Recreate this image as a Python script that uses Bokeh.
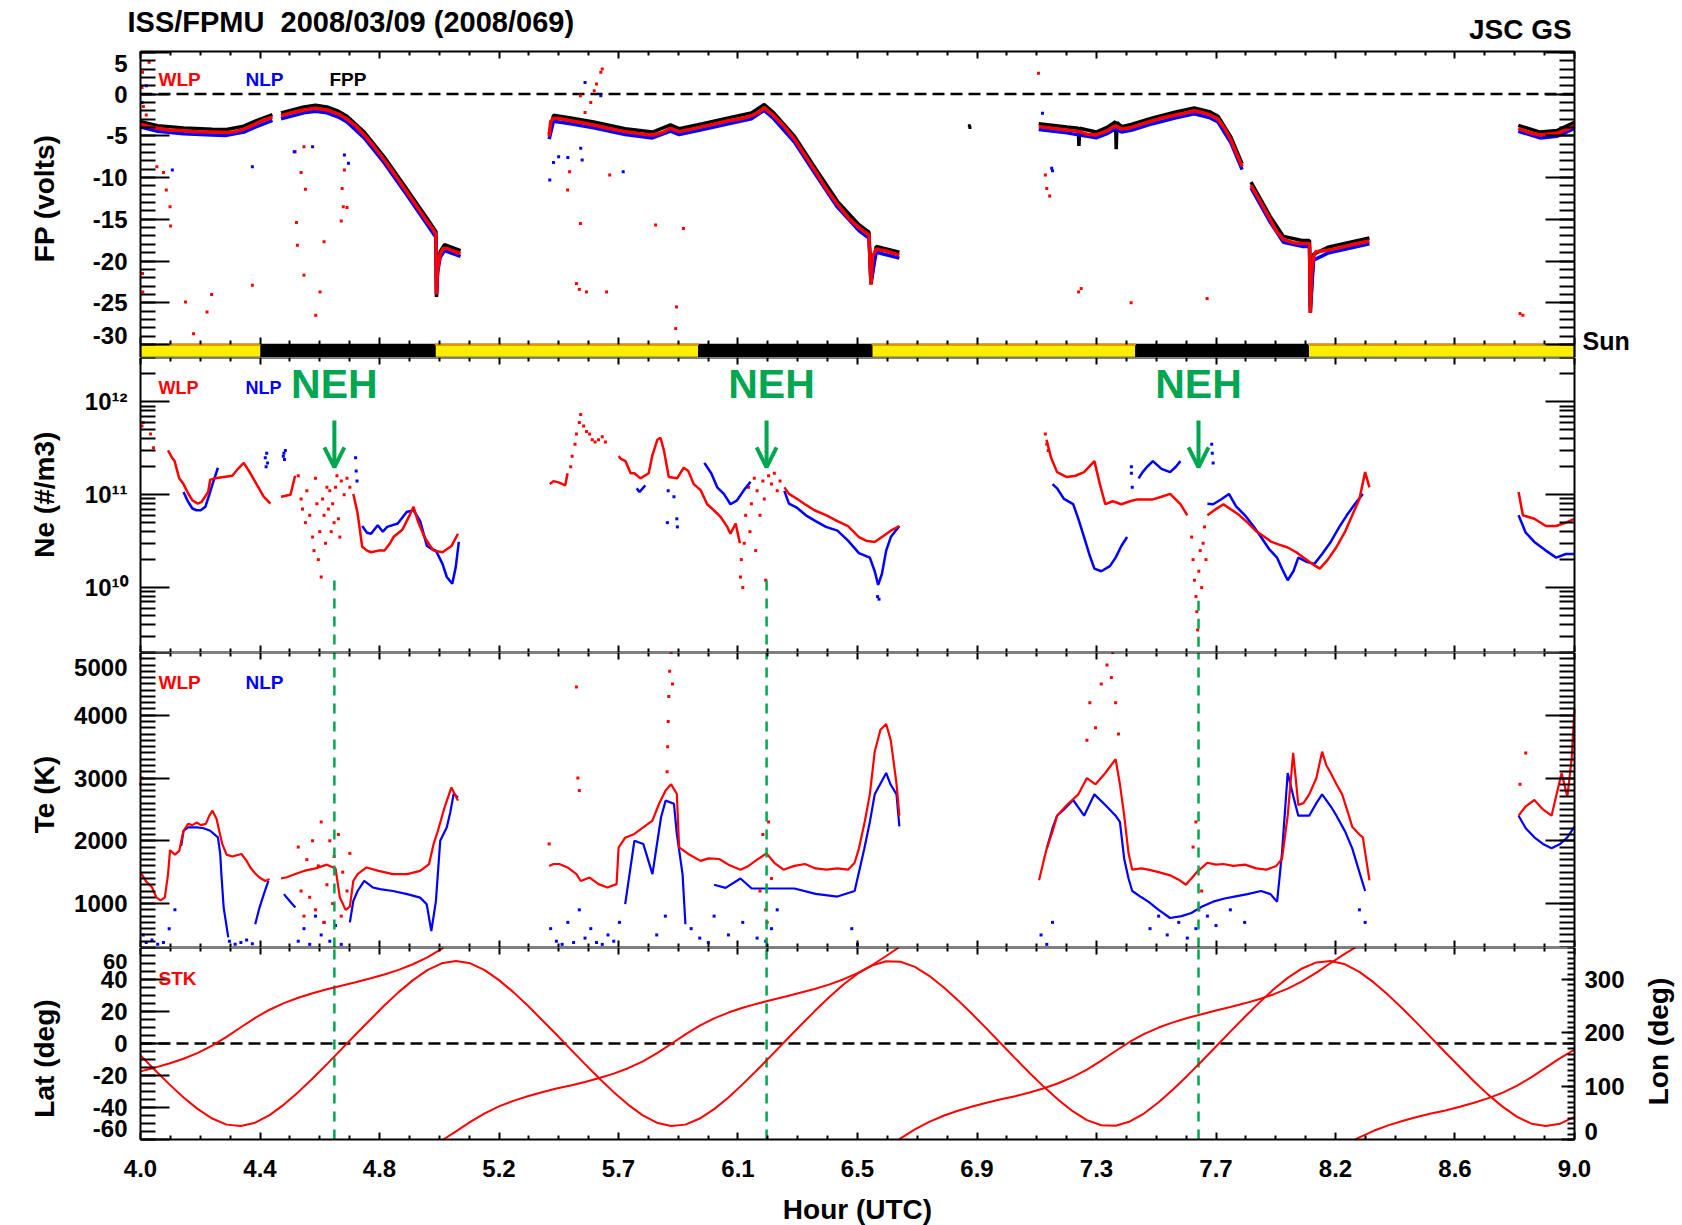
from bokeh.plotting import figure
from bokeh.layouts import column
from bokeh.models import (Range1d, LinearAxis, LogAxis, FixedTicker, Label,
                          CustomJSTickFormatter, Arrow, OpenHead)
from bokeh.embed import file_html
from bokeh.resources import INLINE

FONT = "Liberation Sans"
RED, BLUE, GREEN = "#FF0000", "#0000FF", "#00A650"

# ---------------- axes / ticks ----------------
X_MIN, X_MAX = 4.0, 9.0
x_ticks = [4.0, 4.416667, 4.833333, 5.25, 5.666667, 6.083333, 6.5, 6.916667,
           7.333333, 7.75, 8.166667, 8.583333, 9.0]
x_tick_labels = ["4.0", "4.4", "4.8", "5.2", "5.7", "6.1", "6.5", "6.9", "7.3", "7.7", "8.2", "8.6", "9.0"]

FP_MIN, FP_MAX = -31.56, 5.1
fp_ticks = [5, 0, -5, -10, -15, -20, -25, -30]
fp_tick_labels = ["5", "0", "-5", "-10", "-15", "-20", "-25", "-30"]
NE_MIN, NE_MAX = 2e9, 3e12
ne_ticks = [1e10, 1e11, 1e12]
TE_MIN, TE_MAX = 300, 5000
te_ticks = [1000, 2000, 3000, 4000, 5000]
te_tick_labels = ["1000", "2000", "3000", "4000", "5000"]
LAT_MIN, LAT_MAX = -60, 60
lat_ticks = [-60, -40, -20, 0, 20, 40, 60]
lat_tick_labels = ["-60", "-40", "-20", "0", "20", "40", "60"]
LON_MIN, LON_MAX = 0, 360
lon_ticks = [0, 100, 200, 300]
lon_tick_labels = ["0", "100", "200", "300"]

# ---------------- sunlight bar ----------------
sun_start = [4.0, 5.026, 6.549, 8.071]
sun_end = [4.421, 5.947, 7.471, 9.0]
eclipse_start = [4.421, 5.947, 7.471]
eclipse_end = [5.026, 6.549, 8.071]

# ---------------- NEH events ----------------
neh_hours = [4.676, 6.183, 7.689]
neh_text_hours = [4.676, 6.20, 7.689]
neh_line_top = [1.19e10, 1.19e10, 7.2e9]

# ---------------- Floating potential (V) ----------------
fp_wlp = [
    [(4.00, -3.6), (4.03, -3.9), (4.06, -4.1), (4.10, -4.3), (4.15, -4.4), (4.20, -4.5), (4.25, -4.55),
     (4.30, -4.6), (4.33, -4.5), (4.36, -4.2), (4.40, -3.6), (4.43, -3.1), (4.46, -2.8)],
    [(4.49, -2.6), (4.53, -2.2), (4.57, -1.9), (4.61, -1.7), (4.65, -1.9), (4.69, -2.4), (4.72, -3.0),
     (4.75, -3.8), (4.78, -4.9), (4.81, -6.1), (4.85, -7.9), (4.89, -9.8), (4.93, -11.8), (4.97, -13.8),
     (5.00, -15.3), (5.02, -16.2), (5.030, -16.8), (5.032, -24.0), (5.036, -21.0), (5.045, -19.2),
     (5.055, -18.5), (5.07, -18.5), (5.09, -18.8), (5.116, -19.1)],
    [(5.425, -5.1), (5.43, -3.3), (5.44, -2.9), (5.47, -3.0), (5.50, -3.2), (5.535, -3.4), (5.58, -3.7),
     (5.63, -4.1), (5.69, -4.5), (5.75, -4.8), (5.785, -4.9), (5.82, -4.6), (5.848, -4.1), (5.878, -4.5),
     (5.92, -4.2), (5.96, -3.9), (6.00, -3.6), (6.05, -3.2), (6.10, -2.9), (6.13, -2.6), (6.16, -2.1),
     (6.175, -1.6), (6.19, -2.1), (6.205, -2.5), (6.24, -3.7), (6.28, -5.4), (6.32, -7.5), (6.354, -9.3),
     (6.39, -11.3), (6.43, -13.2), (6.47, -14.9), (6.505, -16.0), (6.54, -16.9), (6.547, -22.8),
     (6.552, -19.5), (6.565, -18.6), (6.60, -18.8), (6.646, -19.3)],
    [(7.132, -3.9), (7.18, -4.1), (7.23, -4.3), (7.272, -4.5), (7.30, -4.8), (7.332, -4.9), (7.37, -4.4),
     (7.40, -3.8), (7.42, -4.2), (7.454, -4.0), (7.49, -3.6), (7.529, -3.2), (7.57, -2.8), (7.61, -2.5),
     (7.651, -2.2), (7.674, -2.0), (7.70, -2.2), (7.73, -2.5), (7.757, -3.0), (7.78, -4.1), (7.802, -5.5),
     (7.82, -7.0), (7.841, -8.7)],
    [(7.872, -10.9), (7.90, -12.6), (7.939, -15.0), (7.96, -16.4), (7.985, -17.4), (8.02, -17.8),
     (8.05, -17.9), (8.076, -17.9), (8.079, -26.2), (8.083, -21.5), (8.09, -19.5), (8.098, -18.9),
     (8.14, -18.7), (8.182, -18.4), (8.23, -18.0), (8.285, -17.6)],
    [(8.804, -4.1), (8.84, -4.6), (8.88, -4.9), (8.94, -4.7), (8.97, -4.3), (9.0, -3.8)],
]
fp_fpp = [
    [(4.00, -3.3), (4.06, -3.8), (4.15, -4.05), (4.25, -4.2), (4.30, -4.25), (4.36, -3.85), (4.40, -3.25), (4.46, -2.45)],
    [(4.49, -2.25), (4.57, -1.55), (4.61, -1.35), (4.65, -1.55), (4.69, -2.05), (4.72, -2.65), (4.78, -4.55),
     (4.85, -7.55), (4.93, -11.45), (5.00, -14.95), (5.03, -16.45), (5.032, -24.3), (5.036, -20.7),
     (5.045, -18.85), (5.06, -18.05), (5.116, -18.75)],
    [(5.425, -4.8), (5.44, -2.55), (5.50, -2.85), (5.58, -3.35), (5.69, -4.15), (5.785, -4.55), (5.848, -3.7),
     (5.878, -4.15), (5.96, -3.55), (6.05, -2.85), (6.13, -2.25), (6.175, -1.25), (6.205, -2.15), (6.28, -5.05),
     (6.354, -8.95), (6.43, -12.85), (6.505, -15.65), (6.54, -16.55), (6.547, -22.8), (6.565, -18.25), (6.646, -18.95)],
    [(7.132, -3.55), (7.23, -3.95), (7.27, -4.1), (7.272, -6.2), (7.275, -4.1), (7.332, -4.55), (7.37, -4.0),
     (7.40, -3.3), (7.402, -6.6), (7.405, -3.4), (7.42, -3.9), (7.454, -3.65), (7.529, -2.85), (7.61, -2.15),
     (7.674, -1.65), (7.73, -2.15), (7.757, -2.65), (7.802, -5.15), (7.841, -8.35)],
    [(7.872, -10.55), (7.939, -14.65), (7.985, -17.05), (8.05, -17.55), (8.076, -17.55), (8.079, -26.2),
     (8.09, -19.2), (8.14, -18.35), (8.23, -17.65), (8.285, -17.25)],
    [(8.804, -3.75), (8.88, -4.55), (8.94, -4.35), (9.0, -3.4)],
]
fp_nlp = [
    [(4.00, -3.95), (4.06, -4.45), (4.15, -4.75), (4.25, -4.9), (4.30, -4.95), (4.36, -4.55), (4.40, -3.95), (4.46, -3.15)],
    [(4.49, -2.95), (4.57, -2.25), (4.61, -2.05), (4.65, -2.25), (4.69, -2.75), (4.72, -3.35), (4.78, -5.25),
     (4.85, -8.25), (4.93, -12.15), (5.00, -15.65), (5.03, -17.15), (5.032, -24.0), (5.036, -21.3),
     (5.045, -19.55), (5.06, -18.75), (5.116, -19.45)],
    [(5.425, -5.4), (5.44, -3.25), (5.50, -3.55), (5.58, -4.05), (5.69, -4.85), (5.785, -5.25), (5.848, -4.45),
     (5.878, -4.85), (5.96, -4.25), (6.05, -3.55), (6.13, -2.95), (6.175, -1.95), (6.205, -2.85), (6.28, -5.75),
     (6.354, -9.65), (6.43, -13.55), (6.505, -16.35), (6.54, -17.25), (6.547, -22.5), (6.565, -18.95), (6.646, -19.65)],
    [(7.132, -4.25), (7.23, -4.65), (7.332, -5.25), (7.37, -4.75), (7.40, -4.15), (7.42, -4.55), (7.454, -4.35),
     (7.529, -3.55), (7.61, -2.85), (7.674, -2.35), (7.73, -2.85), (7.757, -3.35), (7.802, -5.85), (7.841, -9.05)],
    [(7.872, -11.25), (7.939, -15.35), (7.985, -17.75), (8.05, -18.25), (8.076, -18.25), (8.079, -25.5),
     (8.09, -19.9), (8.14, -19.05), (8.23, -18.35), (8.285, -17.95)],
    [(8.804, -4.45), (8.88, -5.25), (8.94, -5.05), (9.0, -4.1)],
]
fp_red_dots = [(4.007, 2.6), (4.03, 3.8), (4.057, -8.7), (4.08, -9.4), (4.09, -11.5), (4.103, -13.5), (4.105, -15.8),
               (4.007, -21.5), (4.008, -23.7), (4.157, -24.9), (4.232, -26.1), (4.248, -24.0), (4.185, -28.7),
               (4.39, -22.9), (4.539, -6.9), (4.57, -6.3), (4.56, -9.4), (4.575, -11.4), (4.544, -15.4),
               (4.547, -18.1), (4.57, -21.7), (4.611, -26.5), (4.626, -23.7), (4.64, -17.7), (4.703, -11.3),
               (4.711, -9.1), (4.707, -13.5), (4.72, -13.6), (4.70, -15.2), (5.489, -11.5), (5.496, -9.3),
               (5.534, -15.5), (5.52, -22.7), (5.53, -23.4), (5.555, -23.7), (5.625, -23.7), (5.636, -9.7),
               (5.796, -15.7), (5.893, -16.1), (5.869, -25.5), (5.866, -28.1), (5.534, -0.2), (5.55, -2.2),
               (5.582, 0.4), (5.605, 2.6), (5.61, 3.0), (5.59, 1.2), (5.57, -1.0), (7.131, 2.5), (7.155, -9.7),
               (7.16, -11.3), (7.17, -12.2), (7.271, -23.7), (7.28, -23.3), (7.454, -25.0), (7.719, -24.5),
               (8.81, -26.3), (8.82, -26.5), (4.005, 0.8), (4.01, -1.5), (4.02, -2.5)]
fp_blue_dots = [(4.39, -8.7), (4.111, -9.1), (4.536, -6.9), (4.60, -6.3), (4.711, -7.3), (4.725, -8.3),
                (5.427, -10.3), (5.44, -8.2), (5.458, -7.5), (5.49, -7.6), (5.535, -6.5), (5.54, -7.9),
                (5.683, -9.3), (5.55, 1.4), (5.605, -0.2), (7.145, -2.3), (7.177, -8.9), (7.18, -9.2),
                (4.005, -1.0), (4.02, 1.0)]
fp_black_dots = [(6.89, -3.8), (6.892, -4.0)]

# ---------------- Electron density (#/m3) ----------------
ne_wlp = [
    [(4.096, 3.0e11), (4.11, 2.5e11), (4.119, 2.3e11), (4.135, 1.5e11), (4.15, 1.3e11), (4.165, 1.05e11),
     (4.181, 8.7e10), (4.20, 8.0e10), (4.212, 8.3e10), (4.225, 9.5e10), (4.236, 1.07e11), (4.243, 1.45e11),
     (4.26, 1.5e11), (4.29, 1.55e11), (4.32, 1.6e11), (4.34, 1.9e11), (4.36, 2.2e11), (4.383, 1.7e11),
     (4.407, 1.26e11), (4.43, 9.5e10), (4.453, 8.0e10)],
    [(4.49, 9.5e10), (4.51, 9.8e10), (4.523, 1.0e11), (4.539, 1.6e11)],
    [(4.742, 1.02e11), (4.757, 6.3e10), (4.773, 2.75e10), (4.79, 2.5e10), (4.804, 2.4e10), (4.83, 2.5e10),
     (4.851, 2.5e10), (4.87, 3.0e10), (4.882, 3.5e10), (4.913, 4.2e10), (4.936, 5.8e10), (4.952, 7.4e10),
     (4.967, 5.2e10), (4.99, 3.5e10), (5.01, 2.8e10), (5.022, 2.5e10), (5.053, 2.4e10), (5.084, 2.8e10),
     (5.107, 3.8e10)],
    [(5.427, 1.3e11), (5.44, 1.4e11), (5.46, 1.35e11), (5.481, 1.26e11), (5.489, 1.7e11)],
    [(5.667, 2.6e11), (5.674, 2.45e11), (5.691, 2.3e11), (5.709, 1.7e11), (5.722, 1.7e11), (5.743, 1.5e11),
     (5.772, 1.7e11), (5.784, 2.6e11), (5.802, 3.9e11), (5.813, 4.1e11), (5.825, 3.0e11), (5.842, 1.55e11),
     (5.871, 1.5e11), (5.894, 1.95e11), (5.91, 1.8e11), (5.929, 1.3e11), (5.953, 1.12e11), (5.976, 7.9e10),
     (5.999, 6.8e10), (6.022, 5.8e10), (6.046, 4.5e10), (6.057, 3.8e10), (6.075, 4.9e10), (6.09, 3.0e10)],
    [(6.245, 1.2e11), (6.261, 1.02e11), (6.29, 9.0e10), (6.317, 7.9e10), (6.35, 6.8e10), (6.392, 6.0e10),
     (6.43, 5.2e10), (6.467, 4.6e10), (6.505, 3.5e10), (6.53, 3.2e10), (6.56, 3.1e10), (6.59, 3.6e10),
     (6.616, 4.1e10), (6.646, 4.6e10)],
    [(7.159, 3.9e11), (7.175, 2.5e11), (7.196, 1.75e11), (7.23, 1.55e11), (7.26, 1.6e11), (7.29, 1.75e11),
     (7.326, 2.3e11), (7.345, 1.3e11), (7.364, 7.9e10), (7.39, 8.5e10), (7.42, 7.9e10), (7.45, 8.5e10),
     (7.476, 8.9e10), (7.53, 8.9e10), (7.56, 9.5e10), (7.59, 1.02e11), (7.626, 7.9e10), (7.65, 6.0e10)],
    [(7.72, 6.0e10), (7.75, 7.0e10), (7.776, 7.9e10), (7.80, 7.0e10), (7.832, 6.0e10), (7.86, 5.0e10),
     (7.888, 4.1e10), (7.92, 3.5e10), (7.944, 3.1e10), (7.97, 2.9e10), (8.0, 2.7e10), (8.03, 2.4e10),
     (8.056, 2.1e10), (8.085, 1.8e10), (8.112, 1.6e10), (8.14, 2.0e10), (8.169, 2.7e10), (8.2, 4.0e10),
     (8.225, 6.0e10), (8.25, 9.0e10), (8.27, 1.75e11), (8.285, 1.2e11)],
    [(8.805, 1.07e11), (8.82, 6.0e10), (8.86, 5.5e10), (8.9, 4.6e10), (8.936, 4.6e10), (8.97, 5.0e10), (9.0, 5.5e10)],
]
ne_nlp = [
    [(4.15, 1.07e11), (4.165, 8.5e10), (4.181, 7.1e10), (4.195, 6.8e10), (4.21, 6.8e10), (4.226, 7.4e10),
     (4.24, 1.0e11), (4.251, 1.3e11), (4.27, 1.95e11)],
    [(4.773, 4.6e10), (4.79, 3.9e10), (4.804, 3.8e10), (4.827, 4.7e10), (4.845, 4.0e10), (4.86, 4.5e10),
     (4.897, 4.9e10), (4.928, 6.5e10), (4.952, 6.8e10), (4.975, 5.2e10), (4.999, 2.8e10), (5.015, 2.6e10),
     (5.03, 2.5e10), (5.053, 1.8e10), (5.068, 1.3e10), (5.087, 1.1e10), (5.099, 1.65e10), (5.11, 3.1e10)],
    [(5.73, 1.17e11), (5.74, 1.07e11), (5.76, 1.26e11)],
    [(5.966, 2.2e11), (5.99, 1.7e11), (6.011, 1.2e11), (6.034, 1.02e11), (6.057, 7.9e10), (6.08, 8.7e10),
     (6.104, 1.12e11), (6.127, 1.38e11)],
    [(6.245, 1.1e11), (6.261, 8.0e10), (6.29, 7.2e10), (6.32, 6.0e10), (6.354, 5.2e10), (6.39, 4.5e10),
     (6.43, 4.1e10), (6.467, 3.2e10), (6.505, 2.35e10), (6.543, 2.1e10), (6.56, 1.5e10), (6.572, 1.07e10),
     (6.585, 1.4e10), (6.6, 2.5e10), (6.616, 3.5e10), (6.646, 4.6e10)],
    [(7.18, 1.3e11), (7.196, 1.17e11), (7.22, 9.0e10), (7.252, 7.9e10), (7.27, 5.5e10), (7.29, 3.5e10),
     (7.31, 2.2e10), (7.326, 1.6e10), (7.35, 1.5e10), (7.38, 1.7e10), (7.40, 2.1e10), (7.42, 2.8e10), (7.44, 3.5e10)],
    [(7.48, 1.5e11), (7.494, 1.75e11), (7.51, 2.0e11), (7.53, 2.3e11), (7.56, 1.9e11), (7.59, 1.75e11),
     (7.61, 2.0e11), (7.626, 2.3e11)],
    [(7.72, 8.0e10), (7.74, 7.9e10), (7.77, 9.0e10), (7.795, 1.02e11), (7.82, 7.5e10), (7.851, 6.0e10),
     (7.88, 4.6e10), (7.907, 3.5e10), (7.935, 2.6e10), (7.963, 2.1e10), (7.98, 1.6e10), (8.0, 1.2e10),
     (8.02, 1.5e10), (8.037, 2.1e10), (8.065, 1.9e10), (8.093, 1.8e10), (8.12, 2.3e10), (8.15, 3.1e10),
     (8.18, 4.5e10), (8.206, 6.0e10), (8.235, 8.0e10), (8.262, 1.02e11)],
    [(8.805, 6.0e10), (8.83, 3.9e10), (8.86, 3.1e10), (8.9, 2.5e10), (8.936, 2.1e10), (8.97, 2.3e10), (9.0, 2.3e10)],
]
ne_red_dots = [(4.55, 1.6e11), (4.56, 9e10), (4.565, 7e10), (4.575, 5e10), (4.58, 1.1e11), (4.59, 6e10),
               (4.60, 3.5e10), (4.605, 2.5e10), (4.61, 1.5e11), (4.615, 8e10), (4.62, 2e10), (4.625, 4e10),
               (4.63, 1.3e10), (4.635, 9e10), (4.64, 6e10), (4.645, 3e10), (4.65, 1.2e11), (4.655, 7e10),
               (4.66, 1.1e11), (4.665, 4e10), (4.67, 8e10), (4.675, 5e10), (4.68, 1.2e11), (4.685, 1.6e11),
               (4.69, 5.5e10), (4.695, 3.5e10), (4.70, 1.4e11), (4.71, 1.0e11), (4.72, 1.5e11), (4.73, 1.2e11),
               (4.035, 4.5e11), (4.045, 3.2e11), (4.005, 5.5e11), (4.01, 6e11),
               (6.095, 2.0e10), (6.10, 1.0e10), (6.105, 3e10), (6.11, 6e10), (6.12, 1.2e11), (6.125, 4e10),
               (6.13, 8e10), (6.14, 1.5e11), (6.145, 2.5e10), (6.15, 1.1e11), (6.16, 6e10), (6.17, 1.4e11),
               (6.175, 9e10), (6.18, 1.2e10), (6.19, 1.6e11), (6.20, 1.3e11), (6.21, 1.7e11), (6.22, 1.1e11),
               (6.23, 1.4e11), (6.092, 1.3e10),
               (7.665, 3.5e10), (7.67, 2e10), (7.675, 1.2e10), (7.68, 8e9), (7.683, 5.5e9), (7.686, 3.5e9),
               (7.69, 1.5e10), (7.695, 2.5e10), (7.70, 1.0e10), (7.705, 3e10), (7.71, 4.5e10), (7.715, 2e10),
               (5.50, 2.0e11), (5.505, 2.6e11), (5.515, 3.5e11), (5.52, 4.5e11), (5.53, 6.0e11), (5.535, 7.3e11),
               (5.545, 5.5e11), (5.555, 4.8e11), (5.566, 4.5e11), (5.575, 3.9e11), (5.585, 3.7e11),
               (5.597, 3.9e11), (5.61, 4.2e11), (5.621, 3.7e11), (7.155, 4.5e11), (7.16, 3.5e11), (7.165, 3e11)]
ne_blue_dots = [(4.435, 2.5e11), (4.438, 2.0e11), (4.44, 2.8e11), (4.443, 2.2e11), (4.5, 2.8e11), (4.502, 2.4e11),
                (4.505, 3.0e11), (4.498, 2.6e11), (4.75, 2.5e11), (4.752, 1.8e11), (4.755, 1.4e11),
                (5.837, 5.0e10), (5.84, 1.1e11), (5.86, 9.5e10), (5.87, 5.5e10), (5.872, 4.5e10),
                (7.455, 1.7e11), (7.458, 1.2e11), (7.455, 2.0e11), (7.735, 3.5e11), (7.737, 2.8e11),
                (7.74, 2.2e11), (6.57, 8e9), (6.575, 7.5e9)]

# ---------------- Electron temperature (K) ----------------
te_wlp = [
    [(4.0, 1500), (4.02, 1350), (4.04, 1260), (4.055, 1100), (4.07, 1050), (4.085, 1100), (4.096, 1470),
     (4.103, 1850), (4.12, 1780), (4.135, 1840), (4.15, 2160), (4.166, 2270), (4.18, 2250), (4.197, 2290),
     (4.21, 2250), (4.228, 2270), (4.24, 2400), (4.251, 2480), (4.265, 2350), (4.275, 2150), (4.285, 1950),
     (4.3, 1780), (4.32, 1750), (4.352, 1790), (4.37, 1680), (4.383, 1575), (4.40, 1480), (4.415, 1415),
     (4.435, 1360), (4.45, 1390)],
    [(4.49, 1400), (4.51, 1420), (4.54, 1470), (4.57, 1520), (4.61, 1560), (4.65, 1620), (4.68, 1560),
     (4.695, 1100), (4.715, 900), (4.73, 950), (4.742, 1360), (4.757, 1470), (4.788, 1575), (4.83, 1520),
     (4.88, 1470), (4.93, 1470), (4.975, 1520), (5.006, 1630), (5.022, 1950), (5.037, 2160), (5.06, 2530),
     (5.084, 2850), (5.095, 2750), (5.107, 2640)],
    [(5.425, 1600), (5.44, 1630), (5.46, 1630), (5.489, 1575), (5.52, 1470), (5.535, 1360), (5.566, 1415),
     (5.597, 1310), (5.628, 1256), (5.66, 1310), (5.667, 1890), (5.69, 2050), (5.722, 2110), (5.753, 2215),
     (5.785, 2320), (5.808, 2590), (5.831, 2800), (5.85, 2900), (5.87, 2750), (5.878, 1895), (5.91, 1790),
     (5.953, 1680), (5.98, 1720), (6.018, 1710), (6.05, 1620), (6.092, 1540), (6.12, 1600), (6.15, 1700),
     (6.183, 1800), (6.21, 1650), (6.242, 1540), (6.28, 1600), (6.317, 1630), (6.354, 1560), (6.392, 1540),
     (6.43, 1560), (6.467, 1540), (6.49, 1650), (6.505, 1880), (6.525, 2300), (6.543, 2740), (6.56, 3420),
     (6.58, 3770), (6.6, 3860), (6.616, 3600), (6.636, 2910), (6.646, 2400)],
    [(7.133, 1370), (7.15, 1700), (7.16, 1880), (7.18, 2150), (7.196, 2400), (7.23, 2570), (7.27, 2740),
     (7.30, 3000), (7.33, 2900), (7.364, 3080), (7.40, 3300), (7.415, 2900), (7.43, 2400), (7.445, 1800),
     (7.458, 1540), (7.49, 1560), (7.514, 1540), (7.55, 1500), (7.59, 1450), (7.62, 1380), (7.645, 1300),
     (7.683, 1500), (7.72, 1650), (7.75, 1620), (7.776, 1630), (7.81, 1600), (7.851, 1620), (7.89, 1560),
     (7.926, 1540), (7.96, 1600), (7.98, 1710), (8.0, 2400), (8.019, 3400), (8.03, 2900), (8.037, 2570),
     (8.055, 2600), (8.075, 2740), (8.10, 3000), (8.12, 3420), (8.135, 3200), (8.15, 3080), (8.17, 2900),
     (8.19, 2740), (8.21, 2450), (8.225, 2225), (8.25, 2100), (8.262, 2055), (8.285, 1370)],
    [(8.805, 2400), (8.83, 2550), (8.86, 2650), (8.89, 2500), (8.92, 2400), (8.955, 3080), (8.975, 2700),
     (8.99, 3300), (9.0, 4100)],
]
te_nlp = [
    [(4.142, 1920), (4.15, 2160), (4.166, 2215), (4.197, 2215), (4.22, 2200), (4.243, 2160), (4.27, 2055),
     (4.278, 1790), (4.282, 1470), (4.29, 936), (4.306, 460)],
    [(4.40, 670), (4.415, 936), (4.43, 1150), (4.446, 1360)],
    [(4.5, 1150), (4.52, 1040), (4.54, 936)],
    [(4.73, 700), (4.742, 1040), (4.757, 1200), (4.78, 1360), (4.81, 1256), (4.835, 1230), (4.88, 1200),
     (4.93, 1150), (4.975, 1095), (4.998, 990), (5.014, 560), (5.03, 1040), (5.045, 2000), (5.068, 2215),
     (5.08, 2450), (5.092, 2750), (5.107, 2690)],
    [(5.69, 990), (5.722, 2000), (5.753, 1950), (5.785, 1470), (5.815, 2375), (5.831, 2640), (5.86, 2590),
     (5.87, 2110), (5.89, 1470), (5.9, 670)],
    [(6.0, 1300), (6.04, 1250), (6.092, 1400), (6.131, 1240), (6.205, 1240), (6.28, 1240), (6.354, 1155),
     (6.43, 1112), (6.49, 1200), (6.505, 1500), (6.524, 1880), (6.543, 2300), (6.56, 2740), (6.6, 3080),
     (6.615, 2900), (6.636, 2740), (6.646, 2230)],
    [(7.16, 1880), (7.18, 2200), (7.196, 2400), (7.22, 2500), (7.252, 2650), (7.29, 2400), (7.326, 2740),
     (7.364, 2570), (7.40, 2400), (7.415, 2300), (7.43, 1710), (7.445, 1400), (7.458, 1200), (7.49, 1100),
     (7.514, 1030), (7.55, 900), (7.59, 770), (7.63, 800), (7.664, 850), (7.70, 950), (7.74, 1030),
     (7.78, 1080), (7.814, 1110), (7.86, 1150), (7.907, 1200), (7.94, 1150), (7.963, 1030), (7.98, 1800),
     (8.0, 3080), (8.02, 2700), (8.037, 2400), (8.075, 2400), (8.1, 2600), (8.12, 2740), (8.15, 2550),
     (8.17, 2400), (8.2, 2150), (8.225, 1880), (8.25, 1500), (8.27, 1200)],
    [(8.805, 2400), (8.83, 2200), (8.86, 2055), (8.89, 1950), (8.92, 1880), (8.95, 1950), (8.975, 2055), (9.0, 2225)],
]
te_red_dots = [(4.55, 1900), (4.56, 1200), (4.57, 800), (4.58, 1700), (4.59, 1100), (4.60, 2000), (4.61, 900),
               (4.62, 1600), (4.63, 2300), (4.64, 700), (4.65, 1300), (4.66, 2000), (4.67, 1000), (4.675, 1750),
               (4.69, 2100), (4.70, 800), (4.705, 1500), (4.72, 1200), (4.73, 1800),
               (5.838, 3500), (5.84, 3900), (5.842, 4300), (5.845, 4700), (5.85, 5000), (5.836, 3100), (5.855, 4500),
               (5.52, 4450), (5.525, 3000), (5.53, 2800), (5.425, 1950), (4.0, 2900), (4.005, 3000),
               (6.16, 1200), (6.17, 2100), (6.18, 900), (6.19, 2300), (6.20, 1400), (6.185, 700),
               (7.30, 3600), (7.31, 4200), (7.33, 3800), (7.35, 4500), (7.37, 4800), (7.39, 5000), (7.40, 4200),
               (7.41, 3700), (7.385, 4600), (7.67, 1900), (7.68, 2300), (7.69, 900), (7.70, 1200),
               (8.81, 2900), (8.83, 3400)]
te_blue_dots = [(4.01, 500), (4.02, 380), (4.04, 420), (4.06, 350), (4.08, 380), (4.10, 600), (4.12, 900),
                (4.31, 400), (4.33, 350), (4.35, 380), (4.37, 420), (4.39, 360), (4.55, 400), (4.57, 600),
                (4.59, 350), (4.61, 800), (4.63, 500), (4.64, 700), (4.66, 400), (4.68, 650), (4.70, 350),
                (5.43, 600), (5.45, 400), (5.47, 350), (5.49, 700), (5.51, 380), (5.53, 900), (5.55, 450),
                (5.57, 600), (5.59, 380), (5.61, 350), (5.63, 500), (5.65, 400), (5.67, 700), (5.80, 500),
                (5.83, 800), (5.92, 600), (5.95, 450), (5.98, 380), (6.0, 800), (6.05, 500), (6.1, 700),
                (6.15, 450), (6.18, 400), (6.2, 600), (6.22, 900), (7.14, 500), (7.16, 350), (7.18, 700),
                (7.52, 600), (7.55, 800), (7.58, 500), (7.62, 700), (7.65, 450), (7.68, 600), (7.72, 800),
                (7.75, 650), (7.80, 900), (7.85, 700), (8.25, 900), (8.27, 700), (6.5, 350), (6.48, 600)]

# ---------------- Ground track (sampled every 0.05 h from 4.00 UTC) ----------------
lat_deg = [-7.4, -16.6, -25.4, -33.7, -41.0, -46.9, -50.7, -51.6, -49.5, -44.8,
           -38.2, -30.4, -21.9, -12.9, -3.7, 5.6, 14.7, 23.7, 32.1, 39.6,
           45.9, 50.1, 51.6, 50.1, 45.9, 39.6, 32.1, 23.7, 14.7, 5.6,
           -3.7, -12.9, -21.9, -30.4, -38.2, -44.8, -49.5, -51.6, -50.7, -46.9,
           -41.0, -33.7, -25.4, -16.6, -7.4, 1.9, 11.1, 20.1, 28.8, 36.7,
           43.6, 48.7, 51.4, 51.1, 47.9, 42.3, 35.2, 27.1, 18.4, 9.3,
           0.0, -9.3, -18.4, -27.1, -35.2, -42.3, -47.9, -51.1, -51.4, -48.7,
           -43.6, -36.7, -28.8, -20.1, -11.1, -1.9, 7.4, 16.6, 25.4, 33.7,
           41.0, 46.9, 50.7, 51.6, 49.5, 44.8, 38.2, 30.4, 21.9, 12.9,
           3.7, -5.6, -14.7, -23.7, -32.1, -39.6, -45.9, -50.1, -51.6, -50.1,
           -45.9]
# longitude, unwrapped (continuous); shown modulo 360
lon_deg_unwrapped = [127.7, 134.7, 142.4, 151.4, 162.4, 176.0, 192.3, 210.4, 228.0, 243.3,
                     255.7, 265.8, 274.2, 281.6, 288.4, 295.0, 301.8, 309.3, 318.0, 328.6,
                     341.5, 357.4, 375.3, 393.2, 409.0, 422.0, 432.5, 441.2, 448.7, 455.6,
                     461.1, 467.9, 475.2, 483.6, 493.7, 506.1, 521.4, 539.0, 557.1, 573.5,
                     587.1, 598.0, 607.0, 614.7, 621.7, 628.3, 635.0, 642.2, 650.4, 660.1,
                     672.0, 686.7, 704.0, 722.2, 739.0, 753.1, 764.6, 773.9, 781.8, 788.9,
                     795.6, 801.1, 808.2, 816.1, 825.4, 836.9, 851.0, 867.8, 886.0, 903.3,
                     918.0, 929.9, 939.6, 947.8, 955.0, 961.7, 968.3, 975.3, 983.0, 992.0,
                     1002.9, 1016.5, 1032.9, 1050.9, 1068.6, 1083.9, 1096.3, 1106.4, 1114.8, 1122.1,
                     1128.9, 1134.4, 1141.3, 1148.8, 1157.5, 1168.0, 1181.0, 1196.8, 1214.7, 1232.6,
                     1248.4]
lon_wrap_hours = [5.056, 6.644, 8.236]   # where the track passes 360 -> 0 deg
track_hours = [4.0 + 0.05 * i for i in range(len(lat_deg))]

# ======================================================================
# Layout in pixels: every figure's frame is its whole canvas; the plot boxes
# are drawn with axes placed at fixed data locations.
W, LEFT_PX, RIGHT_PX = 1682, 140, 108
BOX_W = W - LEFT_PX - RIGHT_PX
xr = Range1d(X_MIN - LEFT_PX * (X_MAX - X_MIN) / BOX_W, X_MAX + RIGHT_PX * (X_MAX - X_MIN) / BOX_W)

FP_H, FP_TOP_PX = 357, 51
FP_CANVAS_TOP = FP_MAX + FP_TOP_PX * (FP_MAX - FP_MIN) / (FP_H - FP_TOP_PX)
LAT_H, LAT_BOT_PX = 278, 86
LAT_CANVAS_BOT = LAT_MIN - LAT_BOT_PX * (LAT_MAX - LAT_MIN) / (LAT_H - LAT_BOT_PX)
LON_CANVAS_BOT = LON_MIN - LAT_BOT_PX * (LON_MAX - LON_MIN) / (LAT_H - LAT_BOT_PX)

x_minor = [a + (b - a) * k / 4.0 for a, b in zip(x_ticks[:-1], x_ticks[1:]) for k in (1, 2, 3)]


def blank():
    return CustomJSTickFormatter(code="return '';")


def mapped(ticks, labels):
    return CustomJSTickFormatter(args=dict(tk=list(ticks), lb=list(labels)), code="""
        for (let i = 0; i < tk.length; i++) {
            if (Math.abs(tk[i] - tick) <= 1e-6 * Math.max(1, Math.abs(tick))) { return lb[i]; }
        }
        return '';
    """)


def style(ax, tin, mtin, fmt=None, size="24px", line=True):
    ax.major_tick_in = tin
    ax.major_tick_out = 0
    ax.minor_tick_in = mtin
    ax.minor_tick_out = 0
    ax.major_tick_line_color = "black"
    ax.minor_tick_line_color = "black"
    ax.major_tick_line_width = 2
    ax.minor_tick_line_width = 2
    ax.axis_line_color = "black" if line else None
    ax.axis_line_width = 2
    ax.major_label_text_font = FONT
    ax.major_label_text_font_style = "bold"
    ax.major_label_text_font_size = size
    ax.major_label_text_color = "black"
    ax.formatter = fmt if fmt is not None else blank()


def base(height, yr, ytype="linear"):
    p = figure(width=W, height=height, x_range=xr, y_range=yr, y_axis_type=ytype,
               x_axis_location=None, y_axis_location=None,
               output_backend="svg", toolbar_location=None,
               min_border=0, min_border_left=0, min_border_right=0,
               min_border_top=0, min_border_bottom=0)
    p.title.visible = False
    p.xgrid.visible = False
    p.ygrid.visible = False
    p.outline_line_color = None
    p.background_fill_color = "white"
    p.border_fill_color = "white"
    return p


def x_axis(p, side, y_loc, fmt=None, line=True, standoff=None):
    ax = LinearAxis(ticker=FixedTicker(ticks=x_ticks, minor_ticks=x_minor),
                    fixed_location=y_loc, bounds=(X_MIN, X_MAX))
    style(ax, 7, 4, fmt, line=line)
    if standoff is not None:
        ax.major_label_standoff = standoff
    p.add_layout(ax, side)


def y_axis(p, side, ticks, minor, bounds, fmt=None, log=False, tin=29, mtin=15, standoff=13, range_name=None):
    cls = LogAxis if log else LinearAxis
    kw = dict(ticker=FixedTicker(ticks=ticks, minor_ticks=minor),
              fixed_location=X_MIN if side == "left" else X_MAX, bounds=bounds)
    if range_name is not None:
        kw["y_range_name"] = range_name
    ax = cls(**kw)
    style(ax, tin, mtin, fmt)
    ax.major_label_standoff = standoff
    p.add_layout(ax, side)


def txt(p, x, y, text, size, color="black", align="left", angle=0.0, **kw):
    p.add_layout(Label(x=x, y=y, text=text, text_font=FONT, text_font_style="bold",
                       text_font_size=size, text_color=color, text_align=align,
                       text_baseline="middle", angle=angle, **kw))


def seg_xy(seglist):
    return [[h for h, _ in s] for s in seglist], [[v for _, v in s] for s in seglist]


def dots(p, pts, color, size=3):
    p.scatter([h for h, _ in pts], [v for _, v in pts], marker="square", size=size,
              fill_color=color, line_color=None)


X_LABEL_RIGHT = X_MIN - 13 * (X_MAX - X_MIN) / BOX_W
X_AXIS_TITLE = X_MIN - 96 * (X_MAX - X_MIN) / BOX_W
X_LEGEND_1 = X_MIN + 18 * (X_MAX - X_MIN) / BOX_W
X_LEGEND_2 = X_MIN + 105 * (X_MAX - X_MIN) / BOX_W
X_LEGEND_3 = X_MIN + 189 * (X_MAX - X_MIN) / BOX_W

# ---------------- FP panel (with sun bar) ----------------
fp = base(FP_H, Range1d(FP_MIN, FP_CANVAS_TOP))
fp_minor = list(range(-30, 6))

fp.quad(left=sun_start, right=sun_end, bottom=FP_MIN, top=-30, fill_color="#FFEE00",
        line_color="black", line_width=1.5)
fp.quad(left=eclipse_start, right=eclipse_end, bottom=FP_MIN, top=-30, fill_color="black",
        line_color="black", line_width=1.5)
fp.segment(x0=sun_start, y0=-30, x1=sun_end, y1=-30, line_color="#E89000", line_width=2)
fp.segment(x0=[X_MIN], y0=[0], x1=[X_MAX], y1=[0], line_color="black", line_width=2.5, line_dash="12 6")

dots(fp, fp_red_dots, RED)
dots(fp, fp_blue_dots, BLUE)
dots(fp, fp_black_dots, "black")
xs, ys = seg_xy(fp_fpp)
fp.multi_line(xs, ys, line_color="black", line_width=3.5)
xs, ys = seg_xy(fp_nlp)
fp.multi_line(xs, ys, line_color=BLUE, line_width=3.5)
xs, ys = seg_xy(fp_wlp)
fp.multi_line(xs, ys, line_color=RED, line_width=3.5)

x_axis(fp, "above", FP_MAX)
x_axis(fp, "below", -30, line=False)
y_axis(fp, "left", fp_ticks, fp_minor, (FP_MIN, FP_MAX), mapped(fp_ticks, [""] + fp_tick_labels[1:-1] + [""]))
y_axis(fp, "right", fp_ticks, fp_minor, (FP_MIN, FP_MAX))

txt(fp, X_LABEL_RIGHT, 3.66, "5", "24px", align="right")
txt(fp, X_LABEL_RIGHT, -28.9, "-30", "24px", align="right")
txt(fp, X_LEGEND_1, 1.75, "WLP", "19px", RED)
txt(fp, X_LEGEND_2, 1.75, "NLP", "19px", BLUE)
txt(fp, X_LEGEND_3, 1.75, "FPP", "19px", "black")
txt(fp, X_LABEL_RIGHT, 8.69, "ISS/FPMU\u00a0\u00a02008/03/09 (2008/069)", "29px")
txt(fp, 8.99, 7.73, "JSC GS", "28px", align="right")
txt(fp, 9.028, -29.6, "Sun", "25px")
txt(fp, X_AXIS_TITLE, -12.5, "FP (volts)", "28px", align="center", angle=1.5708)

# ---------------- Ne panel ----------------
ne = base(295, Range1d(NE_MIN, NE_MAX), ytype="log")
ne_minor = [m * 10.0 ** e for e in (9, 10, 11, 12) for m in range(2, 10) if NE_MIN <= m * 10.0 ** e <= NE_MAX]
sup_fmt = CustomJSTickFormatter(code="""
    const e = Math.round(Math.log10(tick));
    const sup = ["\u2070", "\u00b9", "\u00b2", "\u00b3", "\u2074", "\u2075", "\u2076", "\u2077", "\u2078", "\u2079"];
    return "10" + String(e).split("").map(d => sup[+d]).join("");
""")

dots(ne, ne_blue_dots, BLUE)
dots(ne, ne_red_dots, RED)
xs, ys = seg_xy(ne_nlp)
ne.multi_line(xs, ys, line_color=BLUE, line_width=2.5)
xs, ys = seg_xy(ne_wlp)
ne.multi_line(xs, ys, line_color=RED, line_width=2.5)
ne.segment(x0=neh_hours, y0=neh_line_top, x1=neh_hours, y1=[NE_MIN] * len(neh_hours),
           line_color=GREEN, line_width=2.5, line_dash="10 8")
for h, ht in zip(neh_hours, neh_text_hours):
    txt(ne, ht, 1.55e12, "NEH", "41px", GREEN, align="center")
    ne.add_layout(Arrow(end=OpenHead(size=20, line_color=GREEN, line_width=4),
                        x_start=h, y_start=6.3e11, x_end=h, y_end=1.97e11,
                        line_color=GREEN, line_width=4))

x_axis(ne, "above", NE_MAX)
x_axis(ne, "below", NE_MIN)
y_axis(ne, "left", ne_ticks, ne_minor, (NE_MIN, NE_MAX), sup_fmt, log=True)
y_axis(ne, "right", ne_ticks, ne_minor, (NE_MIN, NE_MAX), log=True)

txt(ne, X_LEGEND_1, 1.42e12, "WLP", "18px", RED)
txt(ne, X_LEGEND_2, 1.42e12, "NLP", "18px", BLUE)
txt(ne, X_AXIS_TITLE, 1.0e11, "Ne (#/m3)", "28px", align="center", angle=1.5708)

# ---------------- Te panel ----------------
te = base(295, Range1d(TE_MIN, TE_MAX))
te_minor = list(range(300, 5001, 100))
dots(te, te_blue_dots, BLUE)
xs, ys = seg_xy(te_nlp)
te.multi_line(xs, ys, line_color=BLUE, line_width=2.2)
dots(te, te_red_dots, RED)
xs, ys = seg_xy(te_wlp)
te.multi_line(xs, ys, line_color=RED, line_width=2.2)
te.segment(x0=neh_hours, y0=[TE_MIN] * 3, x1=neh_hours, y1=[TE_MAX] * 3,
           line_color=GREEN, line_width=2.5, line_dash="10 8")

x_axis(te, "above", TE_MAX)
x_axis(te, "below", TE_MIN)
y_axis(te, "left", te_ticks, te_minor, (TE_MIN, TE_MAX), mapped(te_ticks, te_tick_labels[:-1] + [""]))
y_axis(te, "right", te_ticks, te_minor, (TE_MIN, TE_MAX))

txt(te, X_LABEL_RIGHT, 4755, "5000", "24px", align="right")
txt(te, X_LEGEND_1, 4527, "WLP", "19px", RED)
txt(te, X_LEGEND_2, 4527, "NLP", "19px", BLUE)
txt(te, X_AXIS_TITLE, 2737, "Te (K)", "28px", align="center", angle=1.5708)

# ---------------- Lat / Lon panel ----------------
lat = base(LAT_H, Range1d(LAT_CANVAS_BOT, LAT_MAX))
lat.extra_y_ranges = {"lon": Range1d(LON_CANVAS_BOT, LON_MAX)}

lat.segment(x0=[X_MIN], y0=[0], x1=[X_MAX], y1=[0], line_color="black", line_width=2.5, line_dash="12 6")
lat.segment(x0=neh_hours, y0=[LAT_MIN] * 3, x1=neh_hours, y1=[LAT_MAX] * 3,
            line_color=GREEN, line_width=2.5, line_dash="10 8")
lat.line(track_hours, lat_deg, line_color=RED, line_width=2)

lon_segs = []
cur_h, cur_v, k = [], [], 0
for h, v in zip(track_hours, lon_deg_unwrapped):
    if v - 360.0 * k > 360.0:
        wh = lon_wrap_hours[k]
        cur_h.append(wh)
        cur_v.append(360.0)
        lon_segs.append((cur_h, cur_v))
        cur_h, cur_v = [wh], [0.0]
        k += 1
    cur_h.append(h)
    cur_v.append(v - 360.0 * k)
lon_segs.append((cur_h, cur_v))
lat.multi_line([s[0] for s in lon_segs], [s[1] for s in lon_segs], y_range_name="lon",
               line_color=RED, line_width=2)

x_axis(lat, "above", LAT_MAX)
x_axis(lat, "below", LAT_MIN, mapped(x_ticks, x_tick_labels), standoff=20)
y_axis(lat, "left", lat_ticks, list(range(-60, 61, 5)), (LAT_MIN, LAT_MAX),
       mapped(lat_ticks, [""] + lat_tick_labels[1:-1] + [""]))
y_axis(lat, "right", lon_ticks, list(range(0, 361, 10)), (LON_MIN, LON_MAX),
       mapped(lon_ticks, [""] + lon_tick_labels[1:]), tin=13, mtin=7, standoff=10, range_name="lon")

txt(lat, X_LABEL_RIGHT, 51.5, "60", "22px", align="right")
txt(lat, X_LABEL_RIGHT, -53, "-60", "24px", align="right")
txt(lat, X_MAX + 10 * (X_MAX - X_MIN) / BOX_W, 15, "0", "24px", y_range_name="lon")
txt(lat, X_LEGEND_1, 40.6, "STK", "19px", RED)
txt(lat, X_AXIS_TITLE, -9.4, "Lat (deg)", "28px", align="center", angle=1.5708)
txt(lat, X_MAX + 84 * (X_MAX - X_MIN) / BOX_W, 1.25, "Lon (deg)", "28px", align="center", angle=1.5708)
txt(lat, 6.5, -104, "Hour (UTC)", "28px", align="center")

layout = column(fp, ne, te, lat, spacing=0)
with open("out.html", "w", encoding="utf-8") as f:
    f.write(file_html(layout, INLINE))
